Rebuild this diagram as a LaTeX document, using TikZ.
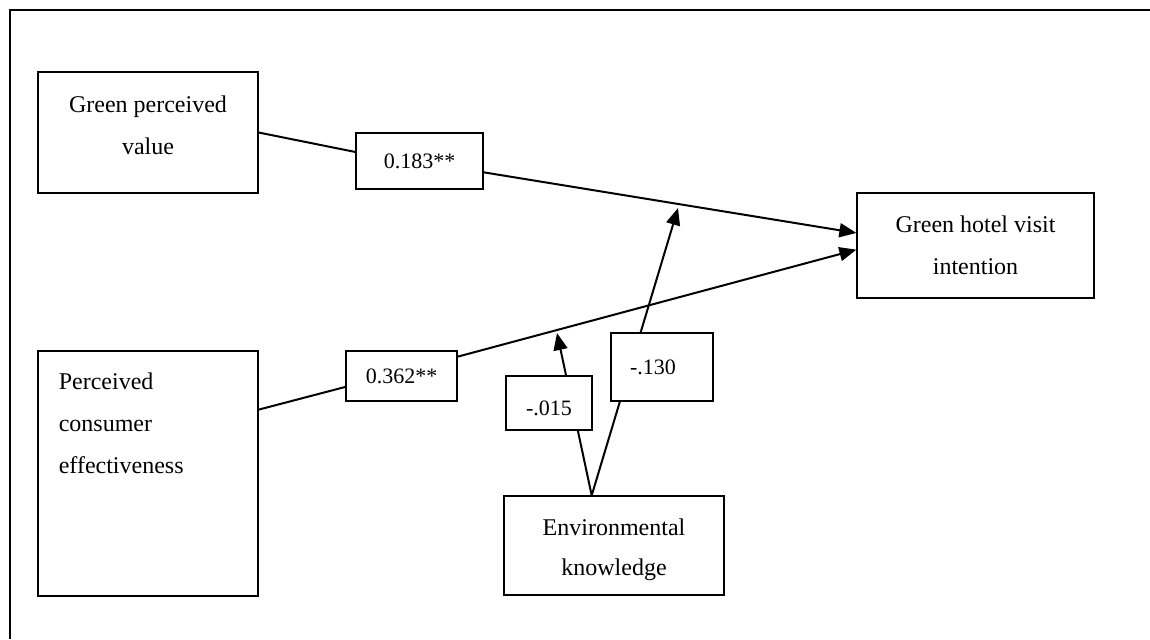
\documentclass[tikz,border=0pt]{standalone}
\usepackage{fontspec}
\setmainfont{Liberation Serif}
\usetikzlibrary{arrows.meta}

\tikzset{
	varbox/.style={draw, line width=0.6pt, fill=white, inner sep=0pt, align=center},
	vartext/.style={inner sep=0pt, align=center, font=\fontsize{12}{21}\selectfont},
	coefbox/.style={draw, line width=0.6pt, fill=white, inner sep=0pt,
		font=\fontsize{11}{13}\selectfont},
	path/.style={line width=1pt},
	effect/.style={line width=1pt, -{Triangle[length=8.5pt,width=7pt]}}
}

\begin{document}
\begin{tikzpicture}[x=0.5pt, y=-0.5pt]
			%%%%% START %%%%%
			\useasboundingbox (0,0) rectangle (1150,639);
			\draw[line width=0.75pt] (1150,10) -- (10,10) -- (10,639);
			
			% variables
			\node[varbox, minimum width=110pt, minimum height=60.5pt,
				label={[vartext, yshift=3.5pt]center:Green perceived\\value}] (gpv) at (148,132.5) {};
			\node[varbox, minimum width=110pt, minimum height=122.5pt,
				label={[vartext, anchor=north west, align=left, xshift=10.5pt, yshift=-11pt]north west:Perceived\\consumer\\effectiveness}] (pce) at (148,473.5) {};
			\node[varbox, minimum width=118.5pt, minimum height=52.5pt,
				label={[vartext]center:Green hotel visit\\intention}] (ghvi) at (975.5,245.5) {};
			\node[varbox, minimum width=110pt, minimum height=49.5pt,
				label={[vartext, yshift=-2pt, font=\fontsize{12}{20}\selectfont]center:Environmental\\knowledge}] (ek) at (614,545.5) {};
			
			% moderation ends
			\coordinate (top130) at (678,208);
			\coordinate (top015) at (557,333);
			
			% paths under the coefficient boxes
			\draw[effect] (ek.114) -- (top130);
			\draw[effect] (ek.114) -- (top015);
			
			\node[coefbox, minimum width=63.5pt, minimum height=28pt] (c183) at (419.5,161) {0.183**};
			\node[coefbox, minimum width=55.5pt, minimum height=25pt] (c362) at (401.5,376) {0.362**};
			\node[coefbox, minimum width=43pt, minimum height=27pt,
				label={[inner sep=0pt, yshift=-2.5pt, font=\fontsize{11}{13}\selectfont]center:-.015}] (c015) at (549,403) {};
			\node[coefbox, minimum width=51pt, minimum height=34pt,
				label={[inner sep=0pt, xshift=-4.5pt, font=\fontsize{11}{13}\selectfont]center:-.130}] (c130) at (662,367) {};
			
			\draw[path] (gpv.east) -- (c183.172);
			\draw[effect] (c183.-10) -- (ghvi.174);
			\draw[path] (pce.30) -- (c362.191);
			\draw[effect] (c362.19) -- (ghvi.182);
			
			%%%%% END %%%%%
\end{tikzpicture}
\end{document}
